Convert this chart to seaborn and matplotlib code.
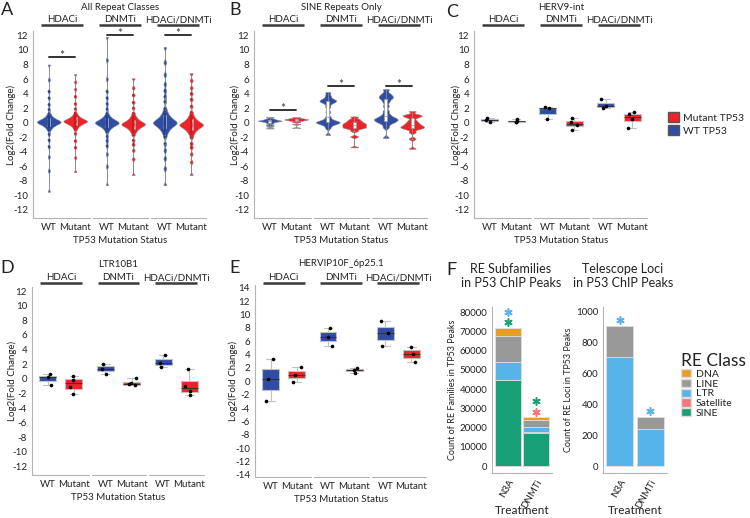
import numpy as np
import pandas as pd
import matplotlib
matplotlib.use("Agg")
import matplotlib.pyplot as plt
import seaborn as sns
from matplotlib.patches import Patch

groups = ["HDACi", "DNMTi", "HDACi/DNMTi"]
statuses = ["WT", "Mutant"]

# A: all repeat classes, log2 fold change (estimated from the figure:
# a dense core around the median plus the sparse long tails)
a_wt = [
    [-9.5, -6.6, -4.7, -3.3, -2.4,
     -1.60, -1.05, -0.80, -0.63, -0.50, -0.40, -0.32, -0.25, -0.19, -0.13, -0.08, -0.04,
     0.01, 0.05, 0.08, 0.12, 0.15, 0.19, 0.24, 0.28, 0.33, 0.39, 0.45, 0.52, 0.60, 0.70,
     0.83, 1.00, 1.25, 1.80,
     2.5, 3.4, 4.3, 5.9, 8.0],
    [-8.6, -6.0, -4.3, -3.2, -2.5,
     -1.87, -1.27, -0.98, -0.80, -0.66, -0.55, -0.46, -0.38, -0.31, -0.25, -0.20, -0.15,
     -0.10, -0.06, -0.02, 0.02, 0.06, 0.10, 0.15, 0.20, 0.25, 0.31, 0.38, 0.46, 0.55,
     0.66, 0.80, 0.98, 1.27, 1.87,
     2.6, 3.4, 4.3, 6.0, 8.6, 11.8],
    [-8.6, -6.3, -4.9, -3.8,
     -2.89, -1.96, -1.52, -1.24, -1.02, -0.85, -0.71, -0.59, -0.48, -0.39, -0.31, -0.23,
     -0.15, -0.09, -0.03, 0.03, 0.09, 0.15, 0.23, 0.31, 0.39, 0.48, 0.59, 0.71, 0.85,
     1.02, 1.24, 1.52, 1.96, 2.89,
     3.6, 4.4, 5.3, 6.6, 8.3, 10.4],
]
a_mut = [
    [-6.8, -4.8, -3.4, -2.5,
     -1.50, -0.95, -0.70, -0.53, -0.40, -0.30, -0.22, -0.15, -0.09, -0.03, 0.02, 0.06,
     0.11, 0.15, 0.18, 0.22, 0.25, 0.29, 0.34, 0.38, 0.43, 0.49, 0.55, 0.62, 0.70, 0.80,
     0.93, 1.10, 1.35, 1.90,
     2.6, 3.6, 4.6, 5.6, 6.7],
    [-7.2, -5.0, -3.8, -3.0,
     -2.41, -1.70, -1.36, -1.15, -0.98, -0.85, -0.75, -0.65, -0.57, -0.50, -0.43, -0.38,
     -0.32, -0.27, -0.22, -0.18, -0.13, -0.08, -0.02, 0.03, 0.10, 0.17, 0.25, 0.35, 0.45,
     0.58, 0.75, 0.96, 1.30, 2.01,
     2.8, 3.8, 4.8, 6.1],
    [-7.2, -5.4, -4.3, -3.4,
     -2.85, -2.03, -1.64, -1.40, -1.20, -1.05, -0.93, -0.82, -0.73, -0.65, -0.57, -0.50,
     -0.44, -0.38, -0.33, -0.27, -0.22, -0.16, -0.10, -0.03, 0.05, 0.13, 0.22, 0.33,
     0.45, 0.60, 0.80, 1.04, 1.43, 2.25,
     3.2, 4.0, 4.8, 5.8, 6.8],
]
a_sig = [9.0, 12.1, 12.0]

# B: SINE repeats only
b_wt = [
    [-0.8, -0.5, -0.3, -0.1, 0.05, 0.15, 0.2, 0.25, 0.28, 0.32, 0.38, 0.45, 0.55, 0.75],
    [-1.7, -0.7, -0.3, -0.1, 0.0, 0.05, 0.1, 0.2, 0.4, 0.8, 1.5, 2.2, 2.7, 2.9, 3.0,
     3.1, 3.3, 3.7, 4.2],
    [-2.1, -0.6, -0.1, 0.1, 0.25, 0.4, 0.5, 0.6, 0.8, 1.1, 1.6, 2.3, 2.9, 3.3, 3.5,
     3.7, 4.0, 4.6],
]
b_mut = [
    [-0.7, -0.2, 0.1, 0.25, 0.32, 0.38, 0.42, 0.46, 0.5, 0.55, 0.62, 0.75],
    [-3.4, -1.9, -1.1, -0.8, -0.7, -0.6, -0.5, -0.4, -0.3, -0.2, -0.1, 0.0, 0.15, 0.3,
     0.5, 0.85],
    [-3.6, -2.2, -1.3, -0.9, -0.75, -0.65, -0.55, -0.45, -0.3, -0.15, 0.05, 0.3, 0.7,
     0.9, 1.0, 1.1, 1.6],
]
b_sig = [1.8, 5.1, 5.0]

# C: HERV9-int
c_wt = [[0.15, 0.4, 0.65], [0.45, 2.0, 2.1], [1.96, 2.3, 3.2]]
c_mut = [[0.05, 0.15, 0.2, 0.45], [-0.95, -0.3, 0.07, 0.67], [-0.67, 0.48, 1.13, 1.5]]

# D: LTR10B1
d_wt = [[-0.83, 0.2, 0.65], [0.65, 1.4, 2.0], [1.57, 2.2, 3.23]]
d_mut = [[-2.08, -1.15, -0.1, 0.37], [-0.9, -0.75, -0.6, 0.1], [-2.2, -1.66, -0.92, 1.34]]

# E: HERVIP10F_6p25.1
e_wt = [[-2.9, 0.3, 3.35], [5.27, 6.65, 7.95], [5.3, 7.2, 9.0]]
e_mut = [[-0.05, 0.95, 2.1], [1.3, 1.65, 1.95], [2.9, 4.05, 5.2]]

# F: counts in P53 ChIP peaks
treatments = ["N3A", "DNMTi"]
re_classes = ["DNA", "LINE", "LTR", "Satellite", "SINE"]
fam_dna = [4500, 1400]
fam_line = [13200, 3800]
fam_ltr = [9300, 2800]
fam_sat = [300, 150]
fam_sine = [44500, 17300]
loci_dna = [0, 0]
loci_line = [203, 82]
loci_ltr = [706, 238]
loci_sat = [0, 0]
loci_sine = [0, 0]
fam_stars = [["SINE", "LTR"], ["Satellite", "SINE"]]
loci_stars = [["LTR"], ["LTR"]]

WT_BLUE = "#2F4EA3"
MUT_RED = "#EC2328"
AXIS_GREY = "#b4b4b4"
pal = {"WT": WT_BLUE, "Mutant": MUT_RED}
dot_pal = {"WT": "#1f3f95", "Mutant": "#d4161c"}
white_pal = {"WT": "white", "Mutant": "white"}
class_colors = {"DNA": "#E69F24", "LINE": "#999999", "LTR": "#56B4E9",
                "Satellite": "#F4777A", "SINE": "#17A077"}
GAP = 2.2
FS = 7

sns.set_theme(style="white")
plt.rcParams["font.family"] = ["Lato", "DejaVu Sans"]
plt.rcParams["axes.unicode_minus"] = False
plt.rcParams["text.color"] = "#222222"
plt.rcParams["axes.labelcolor"] = "#222222"
plt.rcParams["xtick.color"] = "#222222"
plt.rcParams["ytick.color"] = "#222222"
np.random.seed(3)


def long_table(wt_lists, mut_lists):
    rows = []
    for g, (wt, mut) in enumerate(zip(wt_lists, mut_lists)):
        for s, vals in enumerate([wt, mut]):
            for v in vals:
                rows.append((g * GAP + s, statuses[s], v))
    return pd.DataFrame(rows, columns=["pos", "status", "lfc"])


def rect(x0, y0, x1, y1):
    return [x0 / 750, 1 - y1 / 518, (x1 - x0) / 750, (y1 - y0) / 518]


def frame(ax, title, ylim, ytop, line_y, title_y, ylab_dx):
    ax.set_xlim(-0.6, 2 * GAP + 1.6)
    ax.set_ylim(*ylim)
    ax.set_yticks(np.arange(-ytop, ytop + 1, 2))
    ax.set_xticks([g * GAP + s for g in range(3) for s in range(2)])
    ax.set_xticklabels(statuses * 3)
    for sp in ["top", "right", "bottom"]:
        ax.spines[sp].set_visible(False)
    ax.spines["left"].set_color(AXIS_GREY)
    ax.spines["left"].set_linewidth(0.8)
    tr = ax.get_xaxis_transform()
    for g, name in enumerate(groups):
        x0 = g * GAP - (0.6 if g == 0 else 0.52)
        ax.plot([x0, g * GAP + 1.56], [0, 0], transform=tr, color=AXIS_GREY,
                lw=0.8, clip_on=False)
        ax.plot([g * GAP - 0.3, g * GAP + 1.3], [line_y, line_y], transform=tr,
                color="#3a3a3a", lw=1.8, clip_on=False, solid_capstyle="butt")
        ax.text(g * GAP + 0.5, line_y + 0.014, name, transform=tr, ha="center",
                va="baseline", fontsize=FS)
    ax.text(GAP + 0.5, title_y, title, transform=tr, ha="center", va="center",
            fontsize=FS)
    ax.set_ylabel("Log2(Fold Change)", fontsize=FS, va="center")
    width_px = ax.get_position().width * 750
    ax.yaxis.set_label_coords(-ylab_dx / width_px, 0.5)
    ax.set_xlabel("TP53 Mutation Status", fontsize=FS, labelpad=3)
    ax.tick_params(axis="both", length=2, color=AXIS_GREY, labelsize=FS, pad=1.5)


def violins(ax, wt, mut, sig, bw, dots):
    df = long_table(wt, mut)
    sns.violinplot(data=df, x="pos", y="lfc", hue="status", palette=pal,
                   native_scale=True, legend=False, density_norm="width", cut=0,
                   bw_method=bw, gridsize=500, width=0.9, inner=None,
                   linewidth=0.4, linecolor="#8c8c8c", saturation=1, ax=ax)
    if dots:
        # outlying points are only drawn near the body, as in the figure
        near = df[df["lfc"].between(-3.6, 4.5)]
        sns.stripplot(data=near, x="pos", y="lfc", hue="status", palette=dot_pal,
                      native_scale=True, jitter=False, size=1.7, linewidth=0,
                      legend=False, alpha=0.9, ax=ax)
    sns.boxplot(data=df, x="pos", y="lfc", hue="status", palette=white_pal,
                native_scale=True, legend=False, width=0.12, linecolor="#9a9a9a",
                linewidth=0.5, saturation=1, showfliers=False, ax=ax)
    for g, y in enumerate(sig):
        ax.plot([g * GAP, g * GAP + 1], [y, y], color="#333333", lw=1.4)
        ax.annotate("*", (g * GAP + 0.5, y), xytext=(0, -1.5), textcoords="offset points",
                    ha="center", va="baseline", fontsize=8.5, color="#333333")


def boxes(ax, wt, mut):
    df = long_table(wt, mut)
    sns.boxplot(data=df, x="pos", y="lfc", hue="status", palette=pal,
                native_scale=True, legend=False, width=0.65, showfliers=False,
                whis=(0, 100), linecolor="#c2c2c2", linewidth=0.8, saturation=1,
                medianprops=dict(color="#2b2b2b", linewidth=0.8, alpha=0.8), ax=ax)
    sns.stripplot(data=df, x="pos", y="lfc", native_scale=True, color="black",
                  size=2.6, jitter=0.18, ax=ax)


fig = plt.figure(figsize=(7.5, 5.18), dpi=100)

ax_a = fig.add_axes(rect(33, 31, 207, 218))
violins(ax_a, a_wt, a_mut, a_sig, 0.07, True)
frame(ax_a, "All Repeat Classes", (-13.1, 12.6), 12, 1.032, 1.128, 22)

ax_b = fig.add_axes(rect(254, 31, 428, 218))
violins(ax_b, b_wt, b_mut, b_sig, 0.12, False)
frame(ax_b, "SINE Repeats Only", (-13.1, 12.6), 12, 1.032, 1.128, 19)

ax_c = fig.add_axes(rect(474, 31, 648, 218))
boxes(ax_c, c_wt, c_mut)
frame(ax_c, "HERV9-int", (-13.1, 12.6), 12, 1.032, 1.128, 18)

ax_d = fig.add_axes(rect(32, 287, 205, 475))
boxes(ax_d, d_wt, d_mut)
frame(ax_d, "LTR10B1", (-13.15, 12.55), 12, 1.022, 1.118, 20)

ax_e = fig.add_axes(rect(255, 285, 427, 477))
boxes(ax_e, e_wt, e_mut)
frame(ax_e, "HERVIP10F_6p25.1", (-14.3, 14.4), 14, 1.012, 1.11, 22)

status_handles = [Patch(facecolor=MUT_RED, edgecolor="#555555", label="Mutant TP53"),
                  Patch(facecolor=WT_BLUE, edgecolor="#555555", label="WT TP53")]
fig.legend(handles=status_handles, loc="center left",
           bbox_to_anchor=(668 / 750, 1 - 124 / 518), frameon=False, fontsize=7.5,
           handlelength=1.1, handleheight=1.1, handletextpad=0.3, labelspacing=0.25,
           borderaxespad=0, borderpad=0)


def stacked(ax, counts, star_lists, step, ylim, yticks, ylabel):
    table = pd.DataFrame(counts, index=treatments)
    stack_order = ["SINE", "Satellite", "LTR", "LINE", "DNA"]
    cum = table[stack_order].cumsum(axis=1)
    for cls in reversed(stack_order):
        sns.barplot(x=treatments, y=cum[cls].values, color=class_colors[cls],
                    width=0.9, saturation=1, edgecolor="#e2e2e2", linewidth=0.6,
                    errorbar=None, ax=ax)
    totals = cum["DNA"].values
    for i, (tot, cls_list) in enumerate(zip(totals, star_lists)):
        for k, cls in enumerate(cls_list):
            ax.plot(i, tot + (k + 0.5) * step, marker=(6, 2, 0), ms=6, mew=1.1,
                    color=class_colors[cls])
    ax.set_xlim(-0.55, 1.55)
    ax.set_ylim(*ylim)
    ax.set_yticks(yticks)
    for sp in ["top", "right"]:
        ax.spines[sp].set_visible(False)
    for sp in ["left", "bottom"]:
        ax.spines[sp].set_color(AXIS_GREY)
        ax.spines[sp].set_linewidth(0.8)
    ax.tick_params(axis="both", length=2, color=AXIS_GREY, labelsize=7, pad=1.5)
    ax.set_xticks(range(len(treatments)))
    ax.set_xticklabels(treatments, rotation=60, ha="right", rotation_mode="anchor")
    ax.set_ylabel(ylabel, fontsize=6.5, labelpad=2)
    ax.set_xlabel("Treatment", fontsize=8.5, va="top")
    ax.xaxis.set_label_coords(0.5, -32 / 166)


ax_f1 = fig.add_axes(rect(492, 307, 552, 473))
stacked(ax_f1, {"DNA": fam_dna, "LINE": fam_line, "LTR": fam_ltr,
                "Satellite": fam_sat, "SINE": fam_sine},
        fam_stars, 5600, (-3600, 82600), np.arange(0, 80001, 10000),
        "Count of RE Families in TP53 Peaks")

ax_f2 = fig.add_axes(rect(603, 307, 667, 473))
stacked(ax_f2, {"DNA": loci_dna, "LINE": loci_line, "LTR": loci_ltr,
                "Satellite": loci_sat, "SINE": loci_sine},
        loci_stars, 80, (-45, 1032), np.arange(0, 1001, 200),
        "Count of RE Loci in TP53 Peaks")

fig.text(511 / 750, 1 - 276 / 518, "RE Subfamilies\nin P53 ChIP Peaks", ha="center",
         va="center", fontsize=9, linespacing=1.25)
fig.text(623 / 750, 1 - 276 / 518, "Telescope Loci\nin P53 ChIP Peaks", ha="center",
         va="center", fontsize=9, linespacing=1.25)

class_handles = [Patch(facecolor=class_colors[c], edgecolor="#dddddd", label=c)
                 for c in re_classes]
fig.legend(handles=class_handles, loc="upper left",
           bbox_to_anchor=(681 / 750, 1 - 353 / 518), frameon=False, title="RE Class",
           title_fontsize=12.5, fontsize=7.5, handlelength=1.0, handleheight=0.85,
           handletextpad=0.4, labelspacing=0.0, alignment="left", borderaxespad=0,
           borderpad=0)

for letter, (px, py) in {"A": (7, 10), "B": (235, 10), "C": (452, 12),
                         "D": (7, 268), "E": (235, 268), "F": (451, 270)}.items():
    fig.text(px / 750, 1 - py / 518, letter, ha="center", va="center", fontsize=13)

fig.savefig("out.png", dpi=100)
